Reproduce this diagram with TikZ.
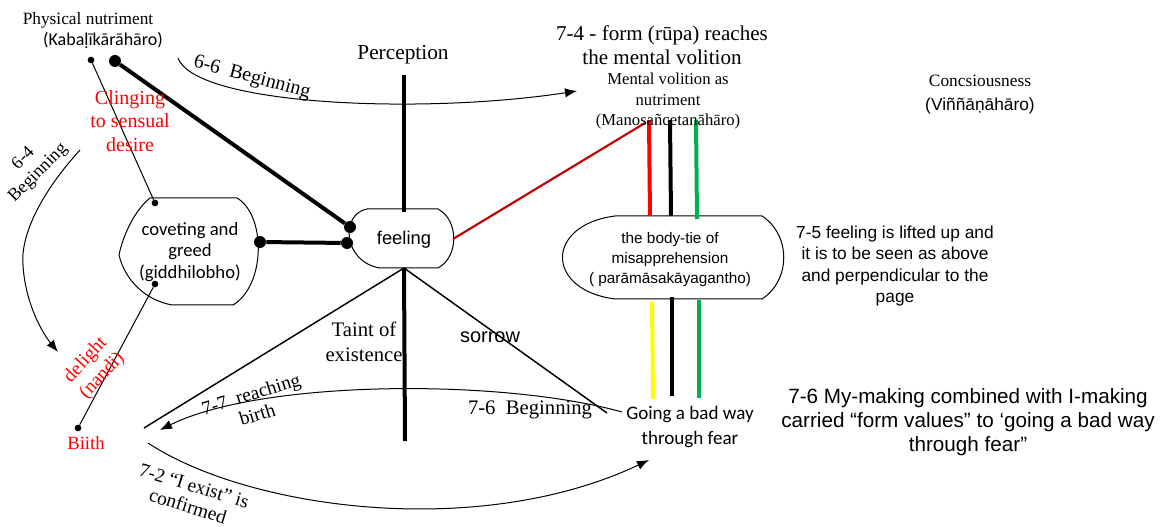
\documentclass[tikz,border=0pt]{standalone}
\usepackage{fontspec}
\setmainfont{Liberation Serif}
\newfontfamily\arialf{Liberation Sans}
\newfontfamily\calf{Carlito}
\usetikzlibrary{arrows.meta}
\definecolor{txtred}{HTML}{FF0000}
\definecolor{dkred}{HTML}{C00000}
\definecolor{grn}{HTML}{00B050}
\definecolor{yel}{HTML}{FFFF00}
\begin{document}
\begin{tikzpicture}[x=0.75pt,y=-0.75pt,
  thin line/.style={line width=0.75pt},
  thick line/.style={line width=3pt},
  colbar/.style={line width=3pt},
  bigdot/.style={circle,fill=black,inner sep=0pt,minimum size=9pt},
  smalldot/.style={circle,fill=black,inner sep=0pt,minimum size=5pt},
  arc arrow/.style={line width=0.75pt,-{Latex[length=9pt,width=7pt]}},
  blob/.style={line width=0.75pt},
  lbl/.style={inner sep=0pt,align=center},
]
\useasboundingbox (0,0) rectangle (1167,527);

% ---- shapes ----
\draw[blob] (150,198) -- (237,198) .. controls (266,215) and (266,285) .. (233,305) -- (172,305) .. controls (145,300) and (125,280) .. (119,255) .. controls (123,235) and (135,210) .. (150,198) -- cycle;
\draw[blob] (367,209) -- (438,209) .. controls (459,220) and (459,257) .. (438,268) -- (380,268) .. controls (343,262) and (340,214) .. (367,209) -- cycle;
\draw[blob] (615,216) -- (762,216) .. controls (791,235) and (791,280) .. (762,299) -- (615,299) .. controls (545,290) and (545,225) .. (615,216) -- cycle;

% ---- named points ----
\node[smalldot] (pnA) at (91,60) {};
\node[bigdot] (pnB) at (115,61) {};
\node[smalldot] (covT) at (155,203) {};
\node[smalldot] (covB) at (155,284) {};
\node[bigdot] (covR) at (260,242) {};
\node[bigdot] (feelA) at (350,227) {};
\node[bigdot] (feelB) at (347,243) {};
\node[smalldot] (birthdot) at (78,428) {};
\coordinate (feelTop) at (404,212);
\coordinate (percBot) at (404,75);
\coordinate (feelBot) at (404,268);
\coordinate (feelR) at (453,239);
\coordinate (vertBot) at (405,441);
\coordinate (leftEnd) at (144,428);
\coordinate (rightEnd) at (607,413);
\coordinate (mvR) at (649,120);
\coordinate (mvK) at (670,120);
\coordinate (mvG) at (696,120);
\coordinate (btR) at (650,216);
\coordinate (btK) at (671,216);
\coordinate (btG) at (697,219);
\coordinate (btY1) at (652,302);
\coordinate (btK1) at (672,297);
\coordinate (btG1) at (699,300);
\coordinate (gbY) at (653,399);
\coordinate (gbK) at (672,396);
\coordinate (gbG) at (699,398);
\coordinate (redEnd) at (645,123);

% ---- connectors ----
\draw[thin line] (pnA) -- (covT);
\draw[thick line] (pnB) -- (feelA);
\draw[thick line] (covR) -- (feelB);
\draw[thin line] (covB) -- (birthdot);
\draw[thick line] (percBot) -- (feelTop);
\draw[thick line] (feelBot) -- (vertBot);
\draw[line width=1.1pt] (feelBot) -- (leftEnd);
\draw[line width=1.1pt] (feelBot) -- (rightEnd);
\draw[line width=1.6pt,dkred] (feelR) -- (redEnd);
\draw[colbar,txtred] (mvR) -- (btR);
\draw[colbar,black] (mvK) -- (btK);
\draw[colbar,grn] (mvG) -- (btG);
\draw[colbar,yel] (btY1) -- (gbY);
\draw[colbar,black] (btK1) -- (gbK);
\draw[colbar,grn] (btG1) -- (gbG);

% arcs
\coordinate (a66s) at (178,58);
\coordinate (a66e) at (577,91);
\draw[arc arrow] (a66s) .. controls (195,105) and (420,115) .. (a66e);
\coordinate (a64s) at (80,150);
\coordinate (a64m) at (23,265);
\coordinate (a64e) at (58,352);
\draw[arc arrow] (a64s) .. controls (48,185) and (20,230) .. (a64m) .. controls (25,300) and (40,330) .. (a64e);
\coordinate (a77s) at (622,412);
\coordinate (a77e) at (160,430);
\draw[arc arrow] (a77s) .. controls (500,378) and (260,380) .. (a77e);
\coordinate (a72s) at (148,443);
\coordinate (a72e) at (649,460);
\draw[arc arrow] (a72s) .. controls (250,510) and (480,540) .. (a72e);

% ---- texts ----
\node[lbl,font=\fontsize{13}{15}\selectfont] (t1) at (88,20) {Physical nutriment};
\node[lbl,font=\calf\fontsize{13.5}{15}\selectfont] (t2) at (103,40) {(Kabaḷīkārāhāro)};
\node[lbl,text=txtred,font=\fontsize{15}{17.5}\selectfont] (t3) at (130,121) {Clinging\\to sensual\\desire};
\node[lbl,rotate=45,font=\fontsize{13.5}{15.5}\selectfont] (t4) at (31,166) {6-4\\Beginning};
\node[lbl,rotate=-15,font=\fontsize{15}{17}\selectfont] (t5) at (252,78) {6-6\enspace Beginning};
\node[lbl,font=\calf\fontsize{14}{16}\selectfont] (t6) at (190,252) {coveting and\\greed\\(giddhilobho)};
\node[lbl,rotate=47,text=txtred,font=\fontsize{14.5}{17}\selectfont] (t7) at (94,368) {delight\\(nandi)};
\node[lbl,text=txtred,font=\fontsize{14}{16}\selectfont] (t8) at (86,443) {Biith};
\node[lbl,font=\fontsize{16}{18}\selectfont] (t9) at (403,55) {Perception};
\node[lbl,font=\arialf\fontsize{13.8}{15}\selectfont] (t10) at (404,240) {feeling};
\node[lbl,font=\fontsize{15.5}{18.75}\selectfont] (t11) at (364,342) {Taint of\\existence};
\node[lbl,font=\arialf\fontsize{15}{16}\selectfont] (t12) at (490,337) {sorrow};
\node[lbl,rotate=17,font=\fontsize{14.5}{16}\selectfont] (t13) at (254,404) {7-7\enspace reaching\\birth};
\node[lbl,font=\fontsize{15.5}{17}\selectfont] (t14) at (530,410) {7-6\enspace Beginning};
\node[lbl,rotate=-17,font=\fontsize{14.5}{16}\selectfont] (t15) at (191,496) {7-2 “I exist” is\\confirmed};
\node[lbl,font=\fontsize{15.8}{18}\selectfont] (t16) at (662,45) {7-4 - form (rūpa) reaches\\the mental volition};
\node[lbl,font=\fontsize{12.5}{15.4}\selectfont] (t17) at (668,101) {Mental volition as\\nutriment\\(Manosañcetanāhāro)};
\node[lbl,font=\arialf\fontsize{11.5}{15}\selectfont] (t18) at (670,260) {the body-tie of\\misapprehension\\( parāmāsakāyagantho)};
\node[lbl,font=\calf\fontsize{14.3}{19}\selectfont] (t19) at (690,427) {Going a bad way\\through fear};
\node[lbl,font=\fontsize{13}{18}\selectfont] (t20) at (980,95) {Concsiousness\\\arialf(Viññāṇāhāro)};
\node[lbl,font=\arialf\fontsize{13}{16}\selectfont] (t21) at (895,266) {7-5 feeling is lifted up and\\it is to be seen as above\\and perpendicular to the\\page};
\node[lbl,font=\arialf\fontsize{15.5}{18}\selectfont] (t22) at (968,422) {7-6 My-making combined with I-making\\carried “form values” to ‘going a bad way\\through fear”};
\end{tikzpicture}
\end{document}
